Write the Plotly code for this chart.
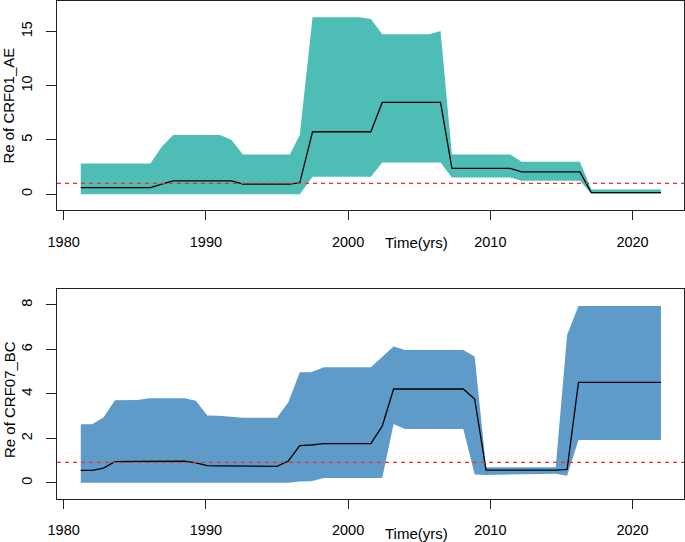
import plotly.graph_objects as go

# panel 1: CRF01_AE
years_ae = [1981.2, 1986.1, 1986.9, 1987.7, 1991.0, 1991.8, 1992.6, 1995.9, 1996.6, 1997.5,
            2000.8, 2001.6, 2002.4, 2005.7, 2006.5, 2007.3, 2011.4, 2012.2, 2016.3, 2017.1, 2022.0]
upper_ae = [2.83, 2.83, 4.37, 5.44, 5.44, 4.98, 3.66, 3.66, 5.44, 16.29,
            16.29, 16.14, 14.72, 14.72, 15.03, 3.66, 3.66, 2.98, 2.98, 0.43, 0.43]
median_ae = [0.61, 0.61, 0.92, 1.23, 1.23, 1.23, 0.92, 0.92, 1.05, 5.75,
             5.75, 5.75, 8.45, 8.45, 8.45, 2.37, 2.37, 2.06, 2.06, 0.15, 0.15]
lower_ae = [0.0, 0.0, 0.02, 0.05, 0.05, 0.04, 0.0, 0.0, 0.0, 1.6,
            1.6, 1.6, 2.92, 2.92, 2.92, 1.54, 1.54, 1.23, 1.23, 0.06, 0.06]

# panel 2: CRF07_BC
years_bc = [1981.2, 1982.0, 1982.8, 1983.6, 1985.2, 1986.0, 1988.5, 1989.3, 1990.1, 1990.9,
            1992.6, 1995.0, 1995.8, 1996.6, 1997.4, 1998.3, 2001.6, 2002.4, 2003.2, 2004.0,
            2008.1, 2008.9, 2009.7, 2014.6, 2015.4, 2016.2, 2022.0]
upper_bc = [2.63, 2.63, 2.94, 3.71, 3.73, 3.80, 3.80, 3.69, 3.03, 3.02,
            2.93, 2.93, 3.62, 4.97, 4.97, 5.20, 5.20, 5.68, 6.13, 5.98,
            5.98, 5.68, 0.70, 0.70, 6.65, 7.96, 7.96]
median_bc = [0.56, 0.56, 0.66, 0.95, 0.96, 0.97, 0.97, 0.90, 0.77, 0.76,
             0.74, 0.74, 0.98, 1.67, 1.70, 1.76, 1.76, 2.55, 4.22, 4.22,
             4.22, 3.77, 0.57, 0.57, 0.60, 4.52, 4.52]
lower_bc = [0.0, 0.0, 0.0, 0.0, 0.01, 0.02, 0.02, 0.01, 0.0, 0.0,
            0.0, 0.0, 0.0, 0.06, 0.07, 0.21, 0.21, 0.21, 2.64, 2.42,
            2.42, 0.37, 0.35, 0.41, 0.32, 1.92, 1.92]

x_ticks = [1980, 1990, 2000, 2010, 2020]
threshold_ae = 1.0
threshold_bc = 0.92

FONT = "Liberation Sans, Arial, sans-serif"

fig = go.Figure()

panels = [
    (years_ae, upper_ae, median_ae, lower_ae, "#4DBDB6", "x", "y"),
    (years_bc, upper_bc, median_bc, lower_bc, "#5F9BC9", "x2", "y2"),
]
for yrs, up, med, lo, col, xa, ya in panels:
    fig.add_trace(go.Scatter(x=yrs, y=lo, mode="lines", line=dict(width=0, color=col),
                             xaxis=xa, yaxis=ya, showlegend=False, hoverinfo="skip"))
    fig.add_trace(go.Scatter(x=yrs, y=up, mode="lines", line=dict(width=0, color=col),
                             fill="tonexty", fillcolor=col,
                             xaxis=xa, yaxis=ya, showlegend=False, hoverinfo="skip"))
    fig.add_trace(go.Scatter(x=yrs, y=med, mode="lines", line=dict(width=1.3, color="black"),
                             xaxis=xa, yaxis=ya, showlegend=False))

# dashed reference lines
fig.add_shape(type="line", xref="x domain", yref="y", x0=0, x1=1, y0=threshold_ae, y1=threshold_ae,
              line=dict(color="#E8302E", width=1.1, dash="4px,4px"))
fig.add_shape(type="line", xref="x2 domain", yref="y2", x0=0, x1=1, y0=threshold_bc, y1=threshold_bc,
              line=dict(color="#E8302E", width=1.1, dash="4px,4px"))

xcommon = dict(range=[1979.53, 2023.62], tickvals=x_ticks, ticks="outside", ticklen=9,
               tickcolor="#222", showline=True, mirror=True, linecolor="#222", linewidth=1,
               showgrid=False, zeroline=False, ticklabelstandoff=9,
               tickfont=dict(family=FONT, size=14.5, color="black"))
ycommon = dict(ticks="outside", ticklen=10, tickcolor="#222", showline=True, mirror=True,
               linecolor="#222", linewidth=1, showgrid=False, zeroline=False, tickangle=-90,
               ticklabelstandoff=8, tickfont=dict(family=FONT, size=14.5, color="black"))

fig.update_layout(
    width=685, height=542,
    margin=dict(l=57, r=1, t=1, b=43),
    plot_bgcolor="white", paper_bgcolor="white",
    xaxis=dict(anchor="y", **xcommon),
    yaxis=dict(domain=[0.580, 1.0], range=[-1.47, 17.79], tickvals=[0, 5, 10, 15], anchor="x", **ycommon),
    xaxis2=dict(anchor="y2", **xcommon),
    yaxis2=dict(domain=[0.0, 0.4217], range=[-0.73, 8.72], tickvals=[0, 2, 4, 6, 8], anchor="x2", **ycommon),
    annotations=[
        dict(text="Re of CRF01_AE", xref="paper", yref="paper", x=0, y=0.79, xshift=-48,
             textangle=-90, showarrow=False, xanchor="center", yanchor="middle",
             font=dict(family=FONT, size=15, color="black")),
        dict(text="Re of CRF07_BC", xref="paper", yref="paper", x=0, y=0.2108, xshift=-48, yshift=-6,
             textangle=-90, showarrow=False, xanchor="center", yanchor="middle",
             font=dict(family=FONT, size=15, color="black")),
        dict(text="Time(yrs)", xref="paper", yref="paper", x=0.5726, y=0.516,
             showarrow=False, xanchor="center", yanchor="middle",
             font=dict(family=FONT, size=15, color="black")),
        dict(text="Time(yrs)", xref="paper", yref="paper", x=0.5726, y=-0.0683,
             showarrow=False, xanchor="center", yanchor="middle",
             font=dict(family=FONT, size=15, color="black")),
    ],
)

# page body has a default 8px margin; drop it so the figure fills the window
fig.write_html("out.html", config={"displayModeBar": False},
               post_script="document.body.style.margin='0';")
